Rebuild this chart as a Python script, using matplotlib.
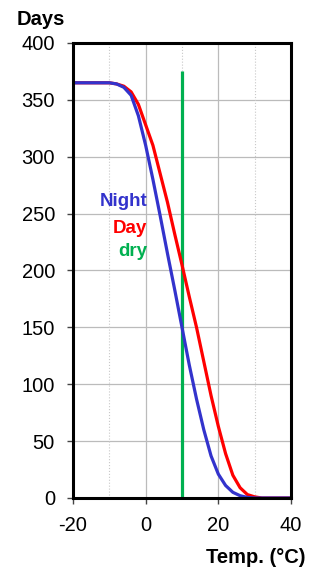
import numpy as np
import matplotlib.pyplot as plt

plt.rcParams['font.family'] = ['Liberation Sans', 'DejaVu Sans']
plt.rcParams['axes.unicode_minus'] = False

# curves
temp_night = [-20, -10, -8, -6, -4, -2, 0, 2, 4, 6, 8, 10, 12, 14, 16, 18, 20, 22, 24, 26, 28, 30, 40]
days_night = [365, 365, 364, 361, 354, 336, 310, 280, 248, 215, 183, 150, 117, 87, 60, 37, 21, 11, 5, 2, 0.5, 0, 0]

temp_day = [-20, -10, -8, -6, -4, -2, 0, 2, 4, 6, 8, 10, 12, 14, 16, 18, 20, 22, 24, 26, 28, 30, 32, 40]
days_day = [365, 365, 364, 362, 357, 346, 328, 310, 285, 260, 232, 205, 177, 150, 120, 90, 63, 39, 20, 9, 3, 1, 0, 0]

dry_temp = [10, 10]
dry_days = [0, 375]

fig = plt.figure(figsize=(3.21, 5.67), dpi=100)
ax = fig.add_axes([0.2274, 0.1217, 0.6791, 0.8025])

ax.set_xlim(-20, 40)
ax.set_ylim(0, 400)

# grid
for y in range(50, 400, 50):
    ax.axhline(y, color='#bbbbbb', lw=0.9, zorder=0)
for x in [0, 20]:
    ax.axvline(x, color='#bbbbbb', lw=0.9, zorder=0)
for x in [-10, 10, 30]:
    ax.axvline(x, color='#c8c8c8', lw=0.8, ls=':', zorder=0)

ax.plot(dry_temp, dry_days, color='#00b050', lw=2.3, solid_capstyle='butt')
ax.plot(temp_day, days_day, color='#ff0000', lw=2.3)
ax.plot(temp_night, days_night, color='#3333cc', lw=2.3)

ax.text(0.4, 257, 'Night', color='#3333cc', fontsize=13.5, fontweight='bold', ha='right', va='baseline')
ax.text(0.4, 233, 'Day', color='#ff0000', fontsize=13.5, fontweight='bold', ha='right', va='baseline')
ax.text(0.4, 213, 'dry', color='#00b050', fontsize=13.5, fontweight='bold', ha='right', va='baseline')

for s in ax.spines.values():
    s.set_linewidth(2.2)
    s.set_color('black')

ax.set_xticks([-20, 0, 20, 40])
ax.set_yticks(range(0, 401, 50))
ax.tick_params(axis='both', labelsize=14.5, length=4, width=1, direction='out', color='#444444')
ax.tick_params(axis='x', pad=9)
ax.tick_params(axis='y', pad=9)

fig.text(0.053, 0.965, 'Days', fontsize=14.5, fontweight='bold', va='center', ha='left')
fig.text(0.952, 0.017, 'Temp. (°C)', fontsize=14.5, fontweight='bold', va='center', ha='right')

fig.savefig('out.png', dpi=100)
